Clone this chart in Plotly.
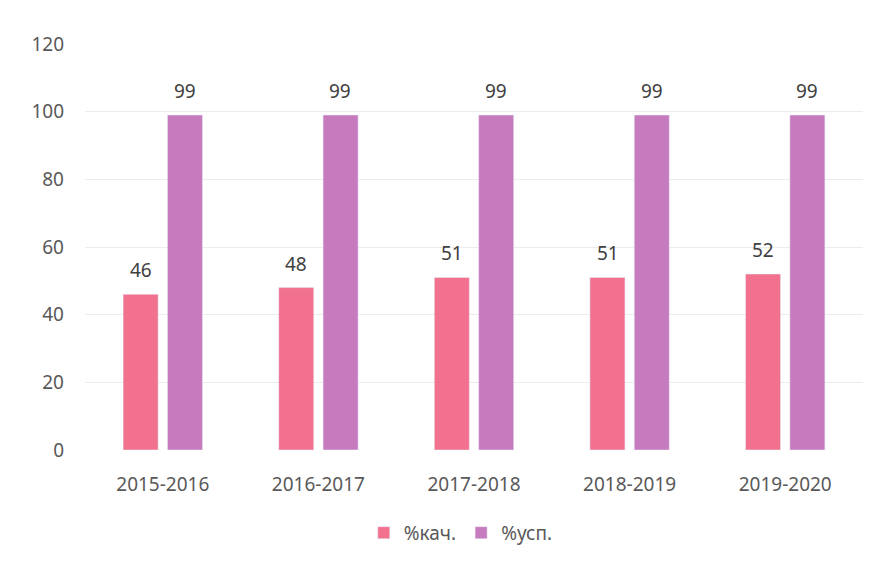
import plotly.graph_objects as go

categories = ["2015-2016", "2016-2017", "2017-2018", "2018-2019", "2019-2020"]
kach = [46, 48, 51, 51, 52]
usp = [99, 99, 99, 99, 99]
series_names = ["%кач.", "%усп."]
colors = ["#F2718F", "#C77BBF"]

fig = go.Figure()
for name, vals, col in zip(series_names, [kach, usp], colors):
    fig.add_trace(go.Bar(x=categories, y=vals, name=name, marker_color=col))

annotations = []
for vals, shift in zip([kach, usp], [-22, 22]):
    for cat, v in zip(categories, vals):
        annotations.append(dict(
            x=cat, y=v, xref="x", yref="y", text=str(v), showarrow=False,
            xshift=shift, yshift=9, yanchor="bottom",
            font=dict(size=19, color="#404040"),
        ))

fig.update_layout(
    width=876, height=569,
    margin=dict(l=77, r=21, t=36, b=127),
    paper_bgcolor="white", plot_bgcolor="white",
    font=dict(family="Noto Sans", size=19, color="#595959"),
    barmode="group", bargap=0.43, bargroupgap=0.21,
    annotations=annotations,
    legend=dict(orientation="h", x=0.483, xanchor="center", y=-0.204, yanchor="middle",
                font=dict(size=19, color="#595959")),
    xaxis=dict(showline=False, ticks="", tickfont=dict(size=19), automargin=False,
               ticklabelstandoff=21),
    yaxis=dict(range=[0, 120], dtick=20, gridcolor="#ececec", zeroline=False,
               ticks="", tickfont=dict(size=19), ticklabelstandoff=20, automargin=False),
)

fig.write_html("out.html")
